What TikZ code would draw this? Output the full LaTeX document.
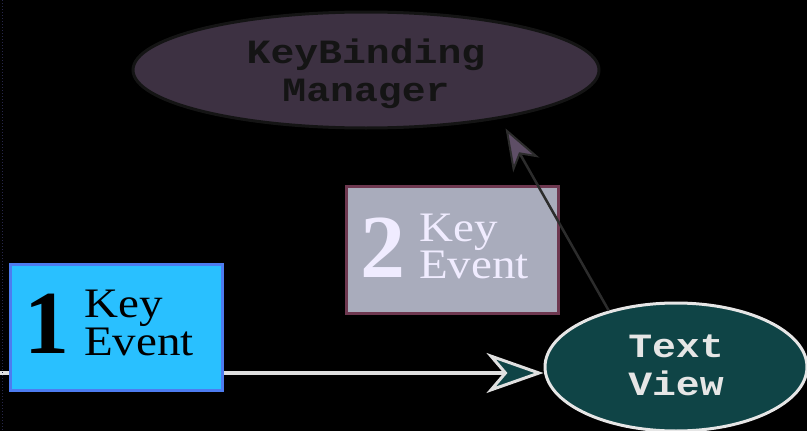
\documentclass[tikz,border=0pt]{standalone}
\usepackage{fontspec}
\setmainfont{Liberation Serif}
\newfontfamily\monof[FakeStretch=1.17]{Liberation Mono}
\newfontfamily\evfont[FakeStretch=1.12]{Liberation Serif}
\usetikzlibrary{arrows.meta,shapes.geometric}
\pgfdeclarelayer{backdrop}
\pgfdeclarelayer{bg}
\pgfsetlayers{backdrop,bg,main}
\definecolor{kbfill}{HTML}{3D3142}
\definecolor{kbborder}{HTML}{141414}
\definecolor{tvfill}{HTML}{0F4446}
\definecolor{tvborder}{HTML}{E6E6E6}
\definecolor{bafill}{HTML}{29C0FF}
\definecolor{baborder}{HTML}{4D7CF0}
\definecolor{bbfill}{HTML}{A9ACBC}
\definecolor{bbborder}{HTML}{6E3850}
\definecolor{bbtext}{HTML}{F0ECFF}
\definecolor{linegray}{HTML}{E0E0E0}
\definecolor{darkline}{HTML}{2C2C2C}
\definecolor{arrowfill}{HTML}{5E4E66}
\definecolor{dotc}{HTML}{26264A}
\begin{document}
\begin{tikzpicture}[x=1pt,y=-1pt,
  ellnode/.style={ellipse, line width=3pt, inner sep=0pt},
  evbox/.style={rectangle, line width=3pt, minimum width=212pt, minimum height=126pt, inner sep=0pt},
  monotext/.style={font=\monof\bfseries\fontsize{34}{38}\selectfont, align=center, inner sep=0pt},
  bignum/.style={font=\fontsize{90}{90}\selectfont\bfseries, anchor=base, inner sep=0pt},
  evtext/.style={anchor=base west, inner sep=0pt, font=\evfont\fontsize{42}{42}\selectfont},
  keytext/.style={evtext, text depth=0pt}
]
\begin{pgfonlayer}{backdrop}
\fill[black] (0,0) rectangle (807,431);
\end{pgfonlayer}
\useasboundingbox (0,0) rectangle (807,431);

\coordinate (dtop) at (2,0);
\coordinate (dbot) at (2,431);
\draw[dotted, color=dotc, line width=1pt] (dtop) -- (dbot);

% ellipses
\node[ellnode, draw=kbborder, fill=kbfill, minimum width=466pt, minimum height=116pt] (kb) at (366,70) {};
\node[monotext, text=kbborder] (kbt) at ([yshift=-3.5pt]kb.center) {KeyBinding\\Manager};

\node[ellnode, draw=tvborder, fill=tvfill, minimum width=262pt, minimum height=128pt] (tv) at (676,367) {};
\node[monotext, text=tvborder] (tvt) at ([yshift=1.5pt]tv.center) {Text\\View};

% box 1
\node[evbox, draw=baborder, fill=bafill] (ea) at (116,327) {};
\node[bignum, text=black] (na) at (47,353) {1};
\node[keytext, text=black] (ka) at (84,317) {Key};
\node[evtext, text=black] (va) at (84,355) {Event};

% box 2
\node[evbox, draw=bbborder, fill=bbfill, minimum height=127pt] (eb) at (452,249.5) {};
\node[bignum, text=bbtext] (nb) at (383,277) {2};
\node[keytext, text=bbtext] (kb2) at (419,241) {Key};
\node[evtext, text=bbtext] (vb) at (419,278) {Event};

% arrow 1 (behind box 1)
\coordinate (s1) at (0,373);
\begin{pgfonlayer}{bg}
\draw[line width=4pt, color=linegray,
  -{Stealth[length=57pt,width=40pt,inset=17pt,fill=tvfill,line width=3pt]}]
  (s1) -- (s1 -| tv.west);
\end{pgfonlayer}

% arrow 2
\draw[line width=2.5pt, color=darkline, shorten >=11pt,
  -{Stealth[length=42pt,width=30pt,inset=12pt,fill=arrowfill,line width=2pt]}]
  (tv.140) -- (kb.-20);
\end{tikzpicture}
\end{document}
